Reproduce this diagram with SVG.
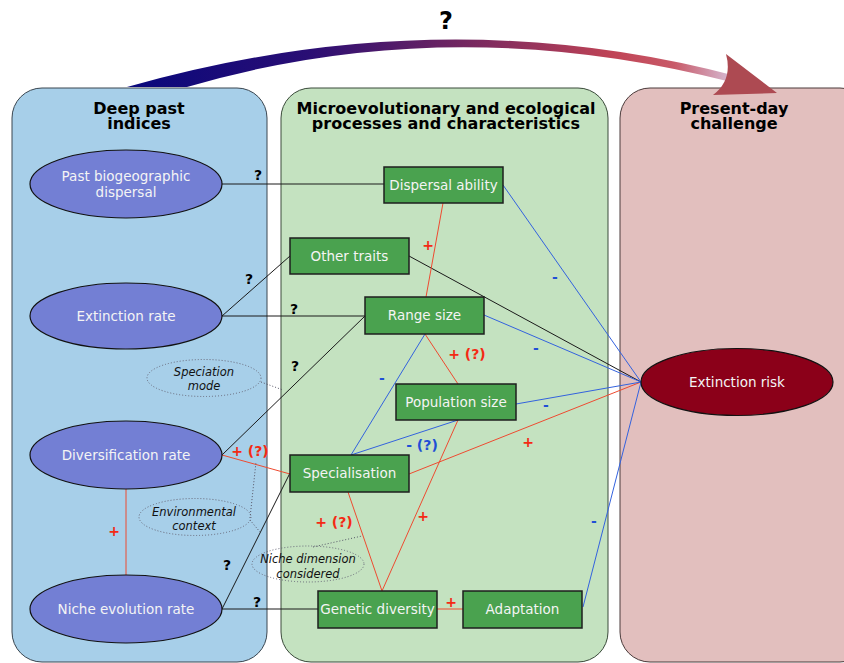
<svg xmlns="http://www.w3.org/2000/svg" width="844" height="663" viewBox="0 0 844 663">
<style>
text{font-family:"DejaVu Sans","Noto Sans",sans-serif}
.ptitle{font-size:16px;font-weight:bold;fill:#000;text-anchor:middle}
.node{font-size:13.5px;fill:#f4f4f4;text-anchor:middle}
.ell{fill:#737fd4;stroke:#111;stroke-width:1.2}
.box{fill:#4aa24f;stroke:#1e1e1e;stroke-width:1.5}
.note{font-size:11.5px;font-style:italic;fill:#111;text-anchor:middle}
.noteell{fill:none;stroke:#667;stroke-width:1;stroke-dasharray:1,2}
.dot{fill:none;stroke:#556;stroke-width:1;stroke-dasharray:1,2}
.k{stroke:#1a1a1a;stroke-width:1;fill:none}
.r{stroke:#ee4a30;stroke-width:1;fill:none}
.b{stroke:#3362de;stroke-width:1;fill:none}
.lk{font-size:14px;font-weight:bold;fill:#000;text-anchor:middle}
.lr{font-size:14px;font-weight:bold;fill:#f42a14;text-anchor:middle}
.lb{font-size:14px;font-weight:bold;fill:#1f4fd6;text-anchor:middle}
</style>
<defs>
<linearGradient id="arcg" gradientUnits="userSpaceOnUse" x1="127" y1="0" x2="735" y2="0">
<stop offset="0" stop-color="#08087c"/>
<stop offset="0.3" stop-color="#2a0e74"/>
<stop offset="0.55" stop-color="#722660"/>
<stop offset="0.8" stop-color="#c04456"/>
<stop offset="0.9" stop-color="#c85a68"/>
<stop offset="1" stop-color="#d6c0da"/>
</linearGradient>
</defs>

<g id="panels">
<rect x="12" y="88" width="255" height="574" rx="30" ry="30" fill="#a7cfe9" stroke="#3a4650" stroke-width="1"/>
<rect x="281" y="88" width="327" height="574" rx="30" ry="30" fill="#c4e2c0" stroke="#3a4a3a" stroke-width="1"/>
<rect x="620" y="88" width="250" height="574" rx="30" ry="30" fill="#e2bfbe" stroke="#4a3a3a" stroke-width="1"/>
<text class="ptitle" x="139" y="113.5">Deep past</text>
<text class="ptitle" x="139" y="129">indices</text>
<text class="ptitle" x="446" y="113.5">Microevolutionary and ecological</text>
<text class="ptitle" x="446" y="129">processes and characteristics</text>
<text class="ptitle" x="734" y="113.5">Present-day</text>
<text class="ptitle" x="734" y="129">challenge</text>
</g>

<g id="top-arrow">
<path d="M127,87 Q440,-2 736,76 L731,82 Q450,10 187,87 Z" fill="url(#arcg)"/>
<path d="M726,54 Q733,80 713,95 L777,93 Z" fill="#ad4a52"/>
<text x="446" y="29" font-size="24" font-weight="bold" text-anchor="middle" fill="#000">?</text>
</g>

<g id="connectors">
<line class="k" x1="222" y1="184" x2="384" y2="184"/>
<line class="k" x1="222" y1="316" x2="290" y2="256"/>
<line class="k" x1="222" y1="316" x2="365" y2="316"/>
<line class="k" x1="222" y1="455" x2="365" y2="316"/>
<line class="k" x1="222" y1="609" x2="290" y2="473"/>
<line class="k" x1="222" y1="609" x2="318" y2="609"/>
<line class="k" x1="409" y1="256" x2="641" y2="382"/>

<line class="r" x1="443" y1="203" x2="426" y2="297"/>
<line class="r" x1="425" y1="334" x2="458" y2="384"/>
<line class="r" x1="222" y1="455" x2="290" y2="474"/>
<line class="r" x1="409" y1="474" x2="641" y2="382"/>
<line class="r" x1="348" y1="492" x2="382" y2="591"/>
<line class="r" x1="458" y1="420" x2="382" y2="591"/>
<line class="r" x1="437" y1="609" x2="463" y2="609"/>
<line class="r" x1="126" y1="489" x2="126" y2="575"/>

<line class="b" x1="503" y1="185" x2="641" y2="382"/>
<line class="b" x1="484" y1="315" x2="641" y2="382"/>
<line class="b" x1="425" y1="334" x2="351" y2="455"/>
<line class="b" x1="516" y1="404" x2="641" y2="382"/>
<line class="b" x1="458" y1="420" x2="351" y2="455"/>
<line class="b" x1="583" y1="607" x2="641" y2="382"/>

<line class="dot" x1="261" y1="382" x2="283" y2="390"/>
<line class="dot" x1="250" y1="518" x2="256" y2="462"/>
<line class="dot" x1="250" y1="520" x2="260" y2="532"/>
<line class="dot" x1="313" y1="547" x2="362" y2="536"/>
</g>

<g id="edge-labels">
<text class="lk" x="258" y="180">?</text>
<text class="lk" x="249" y="284">?</text>
<text class="lk" x="294" y="314">?</text>
<text class="lk" x="295" y="371">?</text>
<text class="lk" x="227" y="570">?</text>
<text class="lk" x="257" y="607">?</text>
<text class="lr" x="428" y="250">+</text>
<text class="lb" x="555" y="282">-</text>
<text class="lb" x="536" y="353">-</text>
<text class="lr" x="467" y="359">+ (?)</text>
<text class="lb" x="382" y="383">-</text>
<text class="lb" x="546" y="410">-</text>
<text class="lb" x="422" y="450">- (?)</text>
<text class="lr" x="528" y="447">+</text>
<text class="lr" x="250" y="456">+ (?)</text>
<text class="lr" x="334" y="527">+ (?)</text>
<text class="lr" x="423" y="521">+</text>
<text class="lr" x="451" y="607">+</text>
<text class="lb" x="594" y="526">-</text>
<text class="lr" x="114" y="536">+</text>
</g>

<g id="notes">
<ellipse class="noteell" cx="204" cy="378" rx="57" ry="18.5"/>
<text class="note" x="204" y="375.5">Speciation</text>
<text class="note" x="204" y="390">mode</text>
<ellipse class="noteell" cx="195" cy="517" rx="56" ry="18.5"/>
<text class="note" x="194" y="515.5">Environmental</text>
<text class="note" x="194" y="530">context</text>
<ellipse class="noteell" cx="308" cy="564" rx="56" ry="18"/>
<text class="note" x="308" y="563">Niche dimension</text>
<text class="note" x="308" y="578">considered</text>
</g>

<g id="past-biogeographic-dispersal">
<ellipse class="ell" cx="126" cy="184" rx="96" ry="34"/>
<text class="node" x="126" y="180.5">Past biogeographic</text>
<text class="node" x="126" y="197">dispersal</text>
</g>
<g id="extinction-rate">
<ellipse class="ell" cx="126" cy="316" rx="96" ry="33"/>
<text class="node" x="126" y="321">Extinction rate</text>
</g>
<g id="diversification-rate">
<ellipse class="ell" cx="126" cy="455" rx="96" ry="34"/>
<text class="node" x="126" y="460">Diversification rate</text>
</g>
<g id="niche-evolution-rate">
<ellipse class="ell" cx="126" cy="609" rx="96" ry="34"/>
<text class="node" x="126" y="614">Niche evolution rate</text>
</g>

<g id="dispersal-ability">
<rect class="box" x="384" y="167" width="119" height="36"/>
<text class="node" x="443.5" y="189.5">Dispersal ability</text>
</g>
<g id="other-traits">
<rect class="box" x="290" y="238" width="119" height="36"/>
<text class="node" x="349.5" y="260.5">Other traits</text>
</g>
<g id="range-size">
<rect class="box" x="365" y="297" width="119" height="37"/>
<text class="node" x="424.5" y="320">Range size</text>
</g>
<g id="population-size">
<rect class="box" x="396" y="384" width="120" height="36"/>
<text class="node" x="456" y="406.5">Population size</text>
</g>
<g id="specialisation">
<rect class="box" x="290" y="455" width="119" height="37"/>
<text class="node" x="349.5" y="478">Specialisation</text>
</g>
<g id="genetic-diversity">
<rect class="box" x="318" y="591" width="119" height="37"/>
<text class="node" x="377.5" y="614">Genetic diversity</text>
</g>
<g id="adaptation">
<rect class="box" x="463" y="591" width="119" height="37"/>
<text class="node" x="522.5" y="614">Adaptation</text>
</g>

<g id="extinction-risk">
<ellipse cx="737" cy="382" rx="96" ry="33.5" fill="#8b0019" stroke="#111" stroke-width="1.2"/>
<text class="node" x="737" y="387">Extinction risk</text>
</g>
</svg>
